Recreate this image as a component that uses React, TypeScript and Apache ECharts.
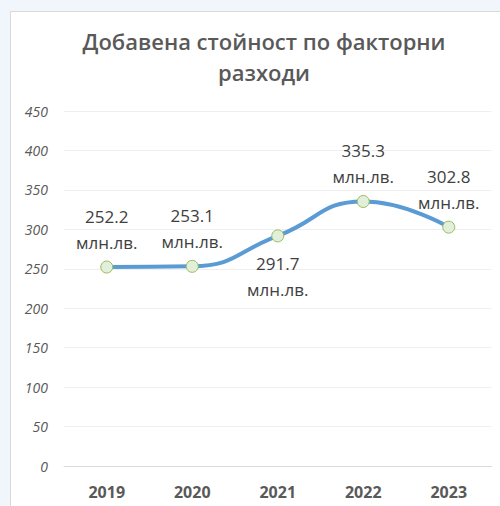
import React, { useEffect, useRef } from "react";
import * as echarts from "echarts";

const categories = ["2019", "2020", "2021", "2022", "2023"];
const values = [252.2, 253.1, 291.7, 335.3, 302.8];
const labelPositions = ["top", "top", "bottom", "top", "top"];
const unit = "млн.лв.";
const titleText = "Добавена стойност по факторни\nразходи";

export default function App() {
  const ref = useRef<HTMLDivElement>(null);
  useEffect(() => {
    if (!ref.current) return;
    const chart = echarts.init(ref.current, null, { renderer: "svg" });
    const data = values.map((v, i) => ({
      value: v,
      label: {
        position: labelPositions[i] as any,
        distance: labelPositions[i] === "bottom" ? 8 : 5,
      },
    }));
    chart.setOption({
      animation: false,
      backgroundColor: "#f0f6fb",
      graphic: [
        {
          type: "rect",
          shape: { x: 10.5, y: 11.5, width: 500, height: 500 },
          style: { fill: "#ffffff", stroke: "#d9d9d9", lineWidth: 1 },
          z: -10,
          silent: true,
        },
      ],
      title: {
        text: titleText,
        left: 259,
        textAlign: "center",
        top: 20,
        textStyle: {
          fontFamily: "Open Sans",
          fontSize: 22,
          fontWeight: 600,
          color: "#595959",
          lineHeight: 31,
        },
      },
      grid: { left: 64, right: 8.5, top: 111, bottom: 40 },
      xAxis: {
        type: "category",
        data: categories,
        boundaryGap: true,
        axisLine: { lineStyle: { color: "#d9d9d9" } },
        axisTick: { show: false },
        axisLabel: {
          fontFamily: "Open Sans",
          fontSize: 16,
          fontWeight: "bold",
          color: "#595959",
          margin: 18,
        },
      },
      yAxis: {
        type: "value",
        min: 0,
        max: 450,
        interval: 50,
        axisLine: { show: false },
        axisTick: { show: false },
        splitLine: { lineStyle: { color: "#efefef" } },
        axisLabel: {
          fontFamily: "Open Sans",
          fontSize: 14,
          fontStyle: "italic",
          color: "#595959",
          margin: 16,
        },
      },
      series: [
        {
          type: "line",
          data,
          smooth: 0.5,
          symbol: "circle",
          symbolSize: 12,
          lineStyle: { color: "#5b9bd5", width: 4 },
          itemStyle: { color: "#e2efda", borderColor: "#9bbb59", borderWidth: 1 },
          label: {
            show: true,
            formatter: (p: any) => `${p.value}\n${unit}`,
            fontFamily: "Open Sans",
            fontSize: 17,
            color: "#404040",
            lineHeight: 26,
          },
        },
      ],
    });
    return () => chart.dispose();
  }, []);
  return (
    <div
      ref={ref}
      style={{ position: "fixed", left: 0, top: 0, width: 500, height: 506 }}
    />
  );
}
